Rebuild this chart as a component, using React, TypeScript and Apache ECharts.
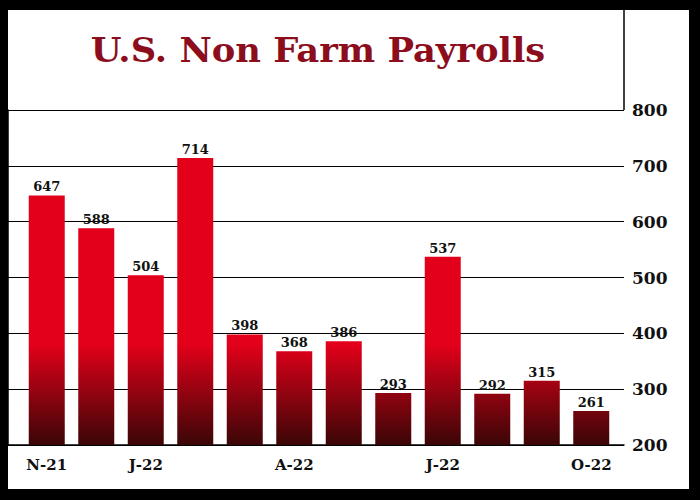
import React, { useEffect, useRef } from "react";
import * as echarts from "echarts";

const categories = ["N-21", "D-21", "J-22", "F-22", "M-22", "A-22", "M-22", "J-22", "J-22", "A-22", "S-22", "O-22"];
const payrolls = [647, 588, 504, 714, 398, 368, 386, 293, 537, 292, 315, 261];
const shownLabelIdx = [0, 2, 5, 8, 11];
const yMin = 200;
const yMax = 800;
const yStep = 100;
const titleText = "U.S. Non Farm Payrolls";

const SERIF = '"DejaVu Serif", "Liberation Serif", serif';

export default function App() {
  const ref = useRef<HTMLDivElement>(null);
  useEffect(() => {
    if (!ref.current) return;
    const chart = echarts.init(ref.current, undefined, { renderer: "svg" });
    chart.setOption({
      animation: false,
      backgroundColor: "#000",
      grid: [
        { left: 8, right: 76, top: 110, bottom: 55 },
        { left: 22, right: 84, top: 110, bottom: 55 },
      ],
      xAxis: [
        {
          type: "value",
          gridIndex: 0,
          min: 0,
          max: 1,
          axisLine: { show: true, onZero: false, lineStyle: { color: "#000", width: 1.5 } },
          axisTick: { show: false },
          axisLabel: { show: false },
          splitLine: { show: false },
        },
        {
          type: "category",
          gridIndex: 1,
          data: categories,
          axisLine: { show: false },
          axisTick: { show: false },
          axisLabel: {
            interval: (i: number) => shownLabelIdx.includes(i),
            margin: 12,
            color: "#111",
            fontFamily: SERIF,
            fontWeight: "bold",
            fontSize: 15,
          },
        },
      ],
      yAxis: [
        {
          type: "value",
          gridIndex: 0,
          position: "right",
          min: yMin,
          max: yMax,
          interval: yStep,
          axisLine: { show: true, lineStyle: { color: "#000", width: 1.5 } },
          axisTick: { show: false },
          axisLabel: {
            margin: 8,
            color: "#111",
            fontFamily: SERIF,
            fontWeight: "bold",
            fontSize: 17,
          },
          splitLine: { show: true, lineStyle: { color: "#000", width: 1 } },
        },
        {
          type: "value",
          gridIndex: 1,
          min: yMin,
          max: yMax,
          show: false,
        },
      ],
      series: [
        {
          type: "bar",
          xAxisIndex: 1,
          yAxisIndex: 1,
          data: payrolls,
          barWidth: 36,
          itemStyle: {
            color: {
              type: "linear",
              x: 0,
              y: 345,
              x2: 0,
              y2: 445,
              global: true,
              colorStops: [
                { offset: 0, color: "#e2001a" },
                { offset: 1, color: "#3a0606" },
              ],
            },
          },
          label: {
            show: true,
            position: "top",
            distance: 2,
            color: "#111",
            fontFamily: SERIF,
            fontWeight: "bold",
            fontSize: 13,
          },
        },
      ],
      graphic: [
        {
          type: "rect",
          z: -100,
          silent: true,
          shape: { x: 8, y: 10, width: 681, height: 479 },
          style: { fill: "#fff" },
        },
        {
          type: "line",
          silent: true,
          shape: { x1: 624, y1: 10, x2: 624, y2: 110 },
          style: { stroke: "#000", lineWidth: 1.5 },
        },
        {
          type: "text",
          silent: true,
          x: 318,
          y: 50,
          scaleX: 1.07,
          style: {
            text: titleText,
            textAlign: "center",
            textVerticalAlign: "middle",
            font: 'bold 33px "DejaVu Serif", serif',
            fill: "#8c0d1c",
          },
        },
      ],
    });
    return () => chart.dispose();
  }, []);
  return (
    <div
      ref={ref}
      style={{ position: "fixed", left: 0, top: 0, width: 700, height: 500 }}
    />
  );
}
